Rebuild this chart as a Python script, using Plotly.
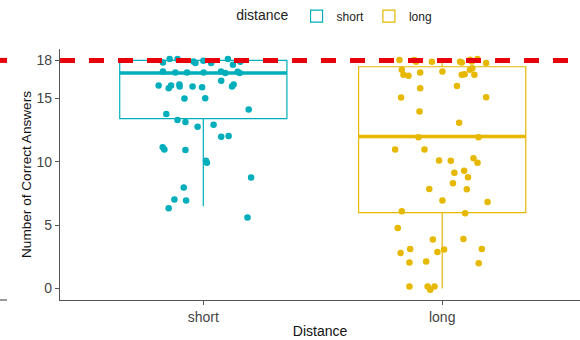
import plotly.graph_objects as go

# Groups and colours
groups = ["short", "long"]
colors = {"short": "#00AFBB", "long": "#E7B800"}

# Box statistics per group
q1 = {"short": 13.4, "long": 6.0}
median = {"short": 17.0, "long": 12.0}
q3 = {"short": 18.0, "long": 17.5}
lower = {"short": 6.5, "long": 0.0}
upper = {"short": 18.0, "long": 18.0}

# Jittered individual scores
short_scores = [17.84, 18.11, 18.11, 17.92, 17.79, 17.79, 18.11, 17.66, 17.97, 17.9,
                17.12, 17.05, 17.05, 17.05, 17.12, 17.0, 17.10, 17.0,
                16.02, 15.81, 16.02, 16.10, 15.94, 15.94, 15.89, 16.39, 15.94, 16.10,
                14.99, 15.02, 14.12, 13.78, 13.30, 13.14, 12.77, 12.93, 11.98, 12.03,
                11.14, 10.98, 10.93, 10.08, 9.92, 8.76, 7.97, 7.02, 6.94, 6.33, 5.60]
short_jitter = [-0.169, -0.141, -0.108, -0.041, -0.033, 0.033, 0.103, 0.124, 0.0, 0.155,
                -0.169, -0.117, -0.068, 0.001, 0.074, 0.092, 0.144, 0.152,
                -0.187, -0.145, -0.135, -0.100, -0.099, -0.045, -0.005, 0.075, 0.120, 0.127,
                -0.079, 0.008, 0.190, -0.155, -0.108, -0.075, -0.024, 0.043, 0.075, 0.106,
                -0.170, -0.163, -0.075, 0.011, 0.015, 0.200, -0.082, -0.121, -0.072, -0.145, 0.185]

long_scores = [18.03, 18.03, 17.89, 17.89, 17.89, 17.84, 18.05, 17.92, 18.11, 17.79,
               17.26, 16.86, 16.79, 17.05, 17.13, 16.86, 16.90, 17.26, 17.38, 16.86,
               15.81, 15.99, 15.07, 15.10, 13.96, 13.09, 11.93, 11.93,
               10.98, 10.98, 10.11, 10.08, 10.29, 9.92, 9.13, 9.29, 8.79, 8.31,
               7.86, 7.84, 6.94, 6.83, 6.10, 5.94, 4.77, 3.88, 3.92,
               3.13, 2.81, 2.89, 3.09, 3.13, 2.06, 2.14, 2.00,
               0.16, 0.16, -0.10, 0.16]
long_jitter = [-0.179, -0.117, -0.109, -0.043, 0.075, 0.082, 0.117, 0.124, 0.148, 0.184,
               -0.169, -0.162, -0.141, -0.092, 0.001, 0.082, 0.094, 0.116, 0.126, 0.135,
               -0.092, 0.062, -0.172, 0.184, -0.095, 0.071, -0.099, 0.152,
               -0.197, -0.074, -0.013, 0.036, 0.131, 0.148, 0.051, 0.092, 0.108, 0.045,
               -0.054, 0.103, 0.001, 0.190, -0.169, 0.096, -0.186, -0.039, 0.089,
               -0.134, -0.174, -0.020, 0.008, 0.166, -0.137, -0.067, 0.153,
               -0.137, -0.061, -0.050, -0.032]

scores = {"short": short_scores, "long": long_scores}
jitter = {"short": short_jitter, "long": long_jitter}

y_ticks = [0, 5, 10, 15, 18]
target = 18

FONT = "Arial, Liberation Sans, sans-serif"
BOX_WIDTH = 0.7

fig = go.Figure()

for i, g in enumerate(groups):
    c = colors[g]
    # box outline
    fig.add_trace(go.Box(
        x=[i], q1=[q1[g]], median=[median[g]], q3=[q3[g]],
        lowerfence=[lower[g]], upperfence=[upper[g]],
        width=BOX_WIDTH, whiskerwidth=0, fillcolor="rgba(255,255,255,0)",
        line=dict(color=c, width=1.2), name=g, showlegend=True,
        boxpoints=False, hoverinfo="skip",
    ))
    # heavier median bar
    fig.add_trace(go.Box(
        x=[i], q1=[median[g]], median=[median[g]], q3=[median[g]],
        lowerfence=[median[g]], upperfence=[median[g]],
        width=BOX_WIDTH, whiskerwidth=0, fillcolor="rgba(255,255,255,0)",
        line=dict(color=c, width=3.5), showlegend=False,
        boxpoints=False, hoverinfo="skip",
    ))

for i, g in enumerate(groups):
    fig.add_trace(go.Scatter(
        x=[i + j for j in jitter[g]], y=scores[g], mode="markers",
        marker=dict(color=colors[g], size=6.5, line=dict(width=0)),
        showlegend=False, hoverinfo="skip",
    ))

# reference line at the maximum score
fig.add_shape(type="line", xref="paper", yref="y", x0=0, x1=1, y0=target, y1=target,
              line=dict(color="#e8000b", width=5, dash="15px,14px"), layer="above")
# neighbouring panel edge
fig.add_shape(type="line", xref="paper", yref="y", x0=-0.1154, x1=-0.1019, y0=target, y1=target,
              line=dict(color="#e8000b", width=5), layer="above")
fig.add_shape(type="line", xref="paper", yref="paper", x0=-0.1154, x1=-0.1019, y0=0, y1=0,
              line=dict(color="#555555", width=1.2), layer="above")

fig.update_layout(
    width=580, height=340,
    margin=dict(l=60, r=0, t=49, b=40),
    paper_bgcolor="white", plot_bgcolor="white",
    boxmode="overlay",
    font=dict(family=FONT, size=12, color="#000000"),
    legend=dict(
        orientation="h", title=dict(text="distance", side="left",
                                    font=dict(size=14, color="#222222")),
        x=0.335, xanchor="left", y=0.995, yref="container", yanchor="top",
        font=dict(size=12, color="#222222"), itemwidth=30,
    ),
    xaxis=dict(
        range=[-0.6, 1.577], tickvals=[0, 1], ticktext=groups,
        showline=True, linecolor="#555555", linewidth=1.2,
        ticks="outside", ticklen=4, tickcolor="#555555",
        tickfont=dict(size=14, color="#444444"), showgrid=False, zeroline=False,
        title=dict(text="Distance", font=dict(size=14, color="#111111"), standoff=2),
    ),
    yaxis=dict(
        range=[-0.9, 18.9], tickvals=y_ticks,
        showline=True, linecolor="#555555", linewidth=1.2,
        ticks="outside", ticklen=4, tickcolor="#555555",
        tickfont=dict(size=14, color="#444444"), showgrid=False, zeroline=False,
        title=dict(text="Number of Correct Answers", font=dict(size=13.6, color="#111111"), standoff=1),
    ),
)

fig.write_html("out.html")
